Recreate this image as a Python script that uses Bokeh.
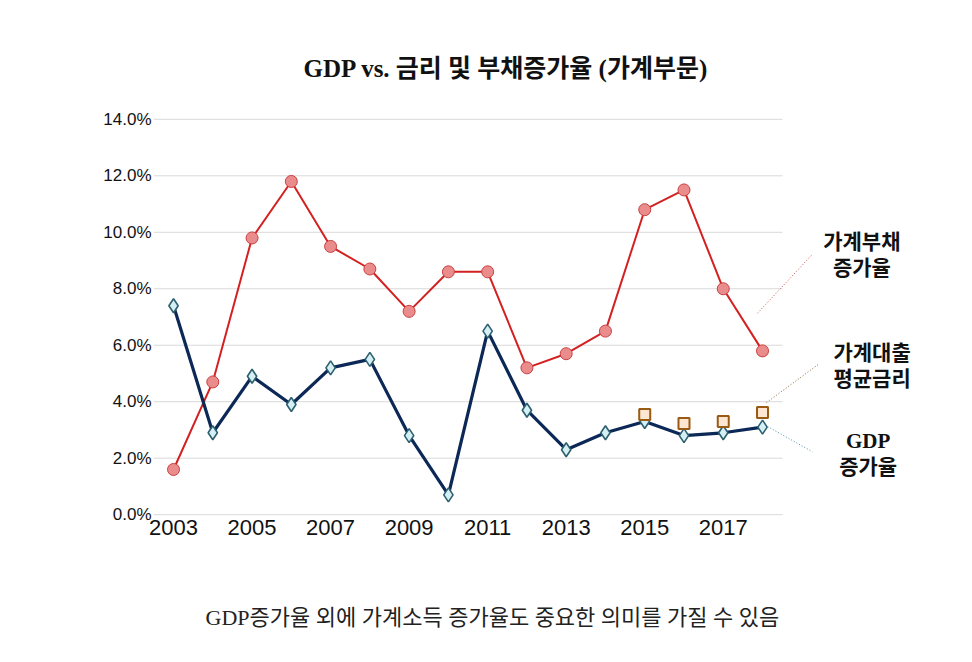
from bokeh.plotting import figure
from bokeh.models import Range1d, FixedTicker, Title, ColumnDataSource
from bokeh.core.properties import value
from bokeh.embed import file_html
from bokeh.resources import INLINE

# ---- data ----
years = [2003, 2004, 2005, 2006, 2007, 2008, 2009, 2010, 2011, 2012, 2013, 2014, 2015, 2016, 2017, 2018]
debt_growth = [1.6, 4.7, 9.8, 11.8, 9.5, 8.7, 7.2, 8.6, 8.6, 5.2, 5.7, 6.5, 10.8, 11.5, 8.0, 5.8]
gdp_growth = [7.4, 2.9, 4.9, 3.9, 5.2, 5.5, 2.8, 0.7, 6.5, 3.7, 2.3, 2.9, 3.3, 2.8, 2.9, 3.1]
rate_years = [2015, 2016, 2017, 2018]
loan_rate = [3.55, 3.23, 3.3, 3.62]

y_ticks = [0, 2, 4, 6, 8, 10, 12, 14]
y_tick_labels = ["0.0%", "2.0%", "4.0%", "6.0%", "8.0%", "10.0%", "12.0%", "14.0%"]
x_ticks = [2003, 2005, 2007, 2009, 2011, 2013, 2015, 2017]

title_text = "GDP vs. 금리 및 부채증가율 (가계부문)"
note_text = "GDP증가율 외에 가계소득 증가율도 중요한 의미를 가질 수 있음"

series_labels = [["가계부채", "증가율"], ["가계대출", "평균금리"], ["GDP", "증가율"]]

FONT = "'Liberation Serif', 'Noto Sans CJK KR'"
SANS = "'Liberation Sans', Arial"

x_start, x_grid_end, x_end = 2002.49, 2018.51, 2022.94

p = figure(width=964, height=662, output_backend="svg", toolbar_location=None,
           x_range=Range1d(x_start, x_end), y_range=Range1d(-0.1, 14.1),
           min_border_left=153, min_border_right=8, min_border_top=116, min_border_bottom=145)
p.outline_line_color = None
p.background_fill_color = "white"
p.border_fill_color = "white"
p.xgrid.visible = False
p.ygrid.visible = False

# axes
p.yaxis.ticker = FixedTicker(ticks=y_ticks)
p.yaxis.major_label_overrides = {t: l for t, l in zip(y_ticks, y_tick_labels)}
p.xaxis.ticker = FixedTicker(ticks=x_ticks)
for ax in (p.xaxis, p.yaxis):
    ax.axis_line_color = None
    ax.major_tick_line_color = None
    ax.minor_tick_line_color = None
    ax.major_tick_out = 0
    ax.major_tick_in = 0
    ax.minor_tick_out = 0
    ax.major_label_text_font = SANS
    ax.major_label_text_color = "#111111"
p.yaxis.major_label_text_font_size = "17px"
p.yaxis.major_label_standoff = 2
p.xaxis.major_label_text_font_size = "22px"
p.xaxis.major_label_standoff = 2

# gridlines (limited to data area)
p.segment(x0=[x_start] * len(y_ticks), x1=[x_grid_end] * len(y_ticks), y0=y_ticks, y1=y_ticks,
          line_color="#d9d9d9", line_width=1)

# series
p.line(years, debt_growth, line_color="#d42020", line_width=2)
p.scatter(years, debt_growth, marker="circle", size=12, fill_color="#eb8c8c", line_color="#c84040", line_width=1)

p.line(years, gdp_growth, line_color="#0c2857", line_width=3.2)
p.scatter(years, gdp_growth, marker="diamond", size=14, fill_color="#d4f0f4", line_color="#2d5f6e", line_width=1.6)

p.scatter(rate_years, loan_rate, marker="square", size=11, fill_color="#fde6d2", line_color="#9a5a14", line_width=2)

# leader lines
p.segment(x0=[2017.87], y0=[7.13], x1=[2019.27], y1=[9.22], line_color="#c0504d", line_width=1, line_dash="1 2")
p.segment(x0=[2018.10], y0=[3.97], x1=[2019.45], y1=[5.35], line_color="#8b6b3d", line_width=1, line_dash="1 2")
p.segment(x0=[2018.13], y0=[3.12], x1=[2019.27], y1=[2.23], line_color="#4a8fa0", line_width=1, line_dash="1 2")

# series labels on the right
lab_x = [2020.53, 2020.53, 2020.79, 2020.79, 2020.69, 2020.69]
lab_y = [9.64, 8.72, 5.74, 4.82, 2.62, 1.70]
lab_t = [t for pair in series_labels for t in pair]
src = ColumnDataSource(dict(x=lab_x, y=lab_y, t=lab_t))
p.text(x="x", y="y", text="t", source=src, text_align="center", text_baseline="middle",
       text_font=value(FONT), text_font_size="21px", text_font_style="bold", text_color="#111111")

# title and note
t = Title(text=title_text, align="left", offset=150, text_font=FONT, text_font_size="25px",
          text_font_style="bold", text_color="#111111", standoff=69)
p.add_layout(t, "above")
spacer = Title(text="\u00a0", text_font_size="52px", standoff=0)
p.add_layout(spacer, "below")
n = Title(text=note_text, align="left", offset=52, text_font=FONT, text_font_size="22px",
          text_font_style="normal", text_color="#222222", standoff=10)
p.add_layout(n, "below")

open("out.html", "w").write(file_html(p, INLINE))
